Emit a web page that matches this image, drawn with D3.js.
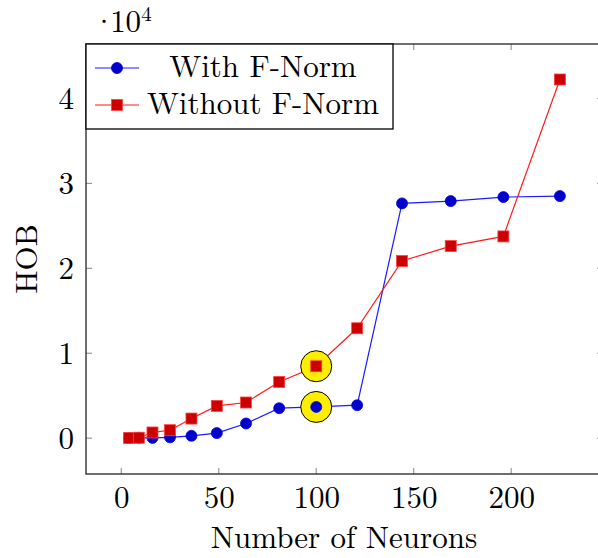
<!DOCTYPE html>
<html><head><meta charset="utf-8">
<script src="https://cdn.jsdelivr.net/npm/d3@7"></script>
<style>html,body{margin:0;padding:0;background:#fff;}svg{display:block;}</style>
</head><body>
<script>
const neurons = [4, 9, 16, 25, 36, 49, 64, 81, 100, 121, 144, 169, 196, 225];
const withFNorm = [20, 40, 30, 100, 280, 600, 1730, 3530, 3680, 3880, 27650, 27920, 28390, 28510];
const withoutFNorm = [30, 50, 670, 940, 2310, 3800, 4200, 6620, 8470, 12940, 20860, 22620, 23760, 42240];
const xTicks = [0, 50, 100, 150, 200];
const yTicks = [0, 10000, 20000, 30000, 40000];
const yTickLabels = ["0", "1", "2", "3", "4"];
const highlightX = [100];
const seriesNames = ["With F-Norm", "Without F-Norm"];

const W = 598, H = 558;
const FS = 31;
const FONT = '"Latin Modern Roman", "Liberation Serif", serif';
const svg = d3.select("body").append("svg").attr("width", W).attr("height", H);

const x = d3.scaleLinear().domain([-18.1, 247.1]).range([86, 603]);
const y = d3.scaleLinear().domain([-4220, 46420]).range([474, 44]);
const [x0, x1] = x.range();
const [yb, yt] = y.range();

function txt(sel) { return sel.style("font-family", FONT).attr("fill", "#000"); }

// ticks (inward, all sides)
const tl = 6;
const tg = svg.append("g").attr("stroke", "#999").attr("stroke-width", 1.2);
xTicks.forEach(t => {
  tg.append("line").attr("x1", x(t)).attr("x2", x(t)).attr("y1", yb).attr("y2", yb - tl);
  tg.append("line").attr("x1", x(t)).attr("x2", x(t)).attr("y1", yt).attr("y2", yt + tl);
});
yTicks.forEach(t => {
  tg.append("line").attr("x1", x0).attr("x2", x0 + tl).attr("y1", y(t)).attr("y2", y(t));
  tg.append("line").attr("x1", x1).attr("x2", x1 - tl).attr("y1", y(t)).attr("y2", y(t));
});

// axis box
svg.append("rect").attr("x", x0).attr("y", yt).attr("width", x1 - x0).attr("height", yb - yt)
  .attr("fill", "none").attr("stroke", "#333").attr("stroke-width", 1.4);

// tick labels
const xAxis = d3.axisBottom(x).tickValues(xTicks).tickSize(0).tickPadding(0).tickFormat(d3.format("d"));
const gx = svg.append("g").attr("transform", `translate(0,${yb})`).call(xAxis);
gx.select(".domain").remove();
txt(gx.selectAll("text")).attr("font-size", FS).attr("dy", null).attr("y", 34);

const yAxis = d3.axisLeft(y).tickValues(yTicks).tickSize(0).tickPadding(0)
  .tickFormat((d, i) => yTickLabels[i]);
const gy = svg.append("g").attr("transform", `translate(74,0)`).call(yAxis);
gy.select(".domain").remove();
txt(gy.selectAll("text")).attr("font-size", FS).attr("x", 0).attr("dy", "0.32em");

// axis labels
txt(svg.append("text")).attr("x", 344).attr("y", 548).attr("text-anchor", "middle")
  .attr("font-size", FS).text("Number of Neurons");
txt(svg.append("text")).attr("transform", `translate(37,${(yb + yt) / 2}) rotate(-90)`)
  .attr("text-anchor", "middle").attr("font-size", FS).text("HOB");

// scale label
const sl = txt(svg.append("text")).attr("x", 92).attr("y", 32).attr("font-size", FS);
sl.append("tspan").text("·");
sl.append("tspan").attr("dx", -6).text("10");
sl.append("tspan").attr("font-size", 21).attr("dy", -11).text("4");

const line = d3.line().x((d, i) => x(neurons[i])).y(d => y(d));
const blueLine = "#1a1aff", blueFill = "#0000cc";
const redLine = "#ff1a1a", redFill = "#cc0000", redEdge = "#ff4040";

function drawCircle(g, cx, cy) {
  g.append("circle").attr("cx", cx).attr("cy", cy).attr("r", 5.5)
    .attr("fill", blueFill).attr("stroke", "#0000e0").attr("stroke-width", 0.8);
}
function drawSquare(g, cx, cy) {
  g.append("rect").attr("x", cx - 5.5).attr("y", cy - 5.5).attr("width", 11).attr("height", 11)
    .attr("fill", redFill).attr("stroke", redEdge).attr("stroke-width", 0.8);
}

const plot = svg.append("g");
plot.append("path").attr("d", line(withFNorm)).attr("fill", "none").attr("stroke", blueLine).attr("stroke-width", 1.2);
withFNorm.forEach((v, i) => drawCircle(plot, x(neurons[i]), y(v)));
plot.append("path").attr("d", line(withoutFNorm)).attr("fill", "none").attr("stroke", redLine).attr("stroke-width", 1.2);
withoutFNorm.forEach((v, i) => drawSquare(plot, x(neurons[i]), y(v)));

// highlights
highlightX.forEach(hx => {
  const i = neurons.indexOf(hx);
  [withFNorm[i], withoutFNorm[i]].forEach(v => {
    plot.append("circle").attr("cx", x(hx)).attr("cy", y(v)).attr("r", 15.5)
      .attr("fill", "#ffee00").attr("stroke", "#000").attr("stroke-width", 1);
  });
  drawCircle(plot, x(hx), y(withFNorm[i]));
  drawSquare(plot, x(hx), y(withoutFNorm[i]));
});

// legend
const lg = svg.append("g");
lg.append("rect").attr("x", x0).attr("y", yt).attr("width", 393 - x0).attr("height", 129 - yt)
  .attr("fill", "#fff").attr("stroke", "#000").attr("stroke-width", 1.3);
const rows = [68, 105];
lg.append("line").attr("x1", 95).attr("x2", 139).attr("y1", rows[0]).attr("y2", rows[0]).attr("stroke", blueLine).attr("stroke-width", 1.2);
drawCircle(lg, 117, rows[0]);
lg.append("line").attr("x1", 95).attr("x2", 139).attr("y1", rows[1]).attr("y2", rows[1]).attr("stroke", redLine).attr("stroke-width", 1.2);
drawSquare(lg, 117, rows[1]);
seriesNames.forEach((n, i) => {
  txt(lg.append("text")).attr("x", 263).attr("y", rows[i] + 8.5).attr("text-anchor", "middle")
    .attr("font-size", FS).text(n);
});
</script>
</body></html>
